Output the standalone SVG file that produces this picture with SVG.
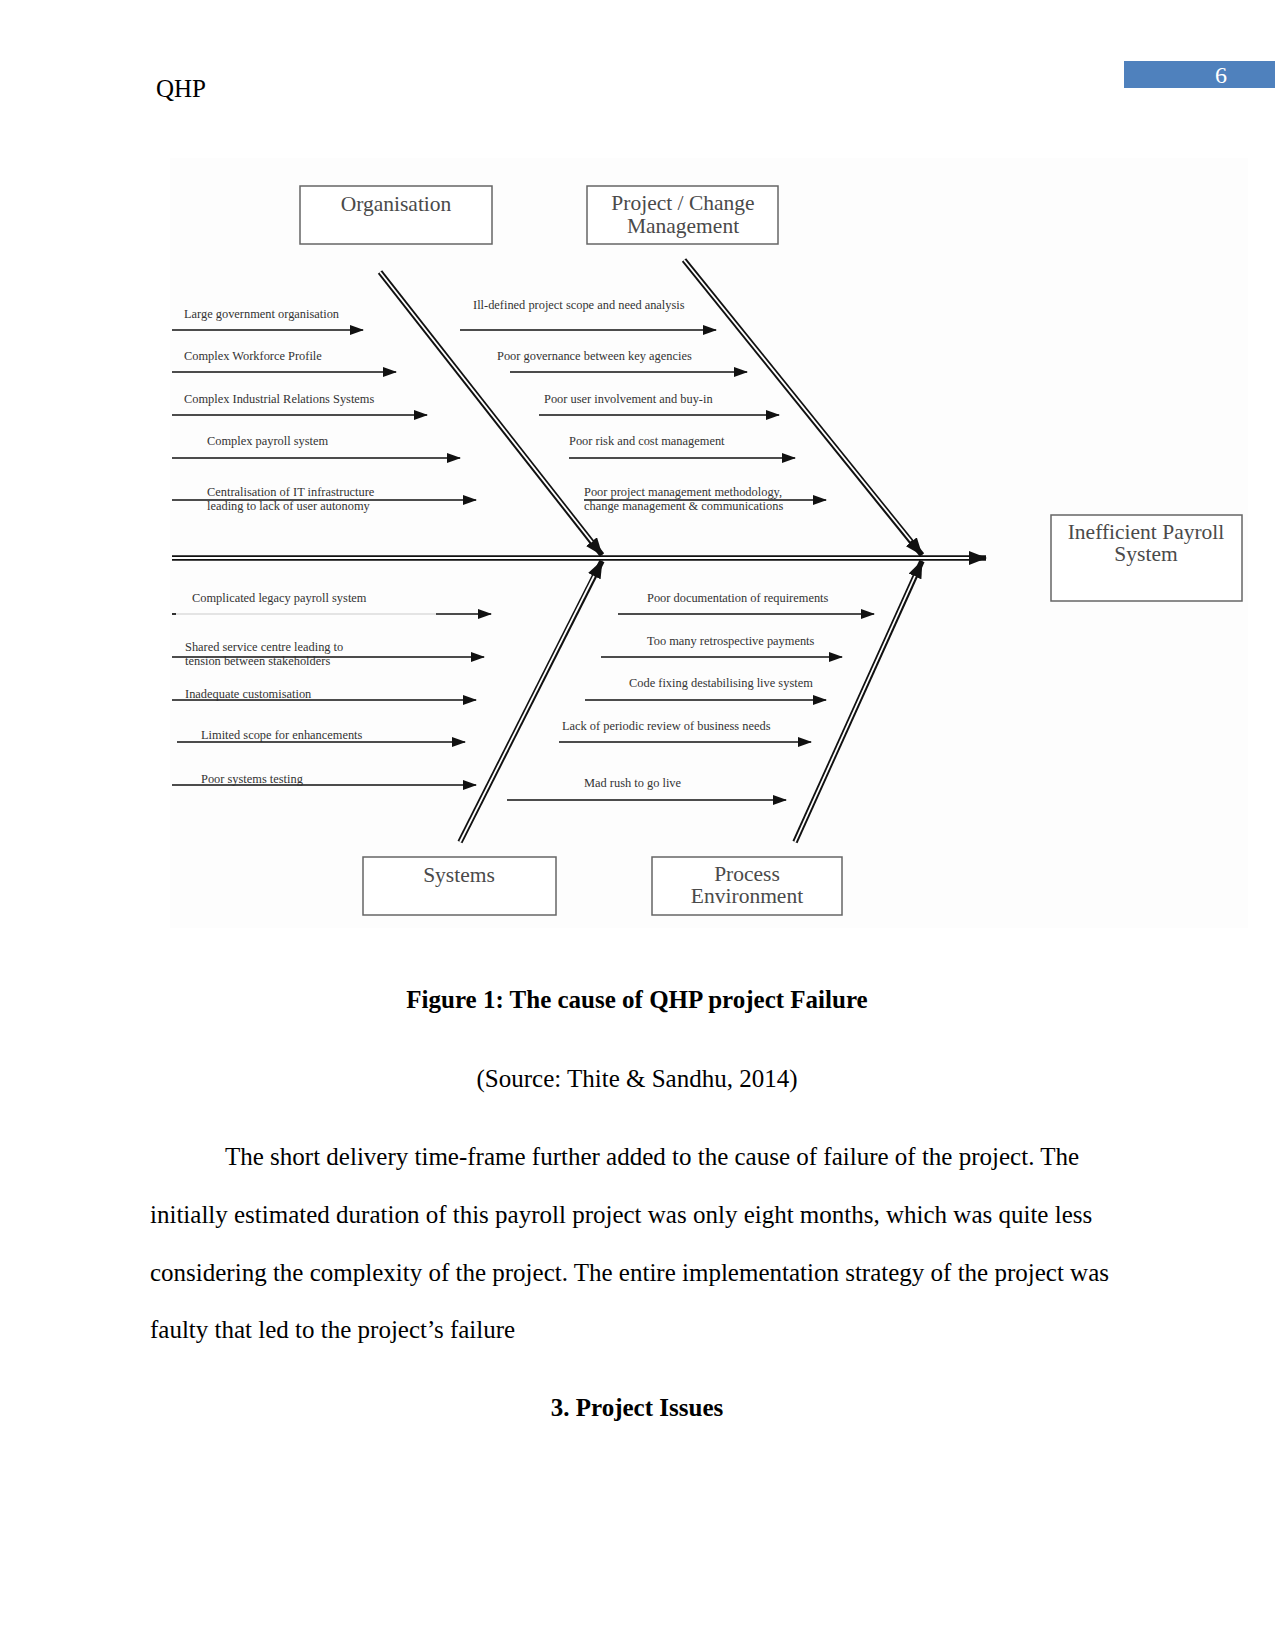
<svg xmlns="http://www.w3.org/2000/svg" width="1275" height="1651" viewBox="0 0 1275 1651">
<style>
.doc{font-family:"Liberation Serif","Times New Roman",serif;fill:#000}
.lbl{font-family:"Liberation Serif","Times New Roman",serif;font-size:12.4px;fill:#333}
.box{fill:#fff;stroke:#666;stroke-width:1.5}
.btxt{font-family:"Liberation Serif","Times New Roman",serif;font-size:21.5px;fill:#4a4a4a;text-anchor:middle}
.arr{stroke:#111;stroke-width:1.7;fill:none;marker-end:url(#ah)}
.dblo{stroke:#111;stroke-width:5.5;fill:none;marker-end:url(#bh)}
.dbli{stroke:#fff;stroke-width:1.8;fill:none}
</style>
<defs>
<marker id="ah" markerUnits="userSpaceOnUse" markerWidth="14" markerHeight="10" refX="13" refY="5" orient="auto">
<path d="M0,0 L14,5 L0,10 Z" fill="#111"/>
</marker>
<marker id="bh" markerUnits="userSpaceOnUse" markerWidth="18" markerHeight="14" refX="17" refY="7" orient="auto">
<path d="M0,0 L18,7 L0,14 Z" fill="#111"/>
</marker>
</defs>
<rect width="1275" height="1651" fill="#fff"/>

<!-- page header -->
<text class="doc" x="156" y="97" font-size="25">QHP</text>
<rect x="1124" y="61" width="151" height="27" fill="#4F81BD"/>
<text class="doc" x="1221" y="83" font-size="24" text-anchor="middle" style="fill:#fff">6</text>

<!-- diagram background -->
<rect x="170" y="158" width="1078" height="770" fill="#fdfdfd"/>

<!-- nodes -->
<g id="organisation">
<rect class="box" x="300" y="186" width="192" height="58"/>
<text class="btxt" x="396" y="211">Organisation</text>
</g>
<g id="project-change-management">
<rect class="box" x="587" y="186" width="191" height="58"/>
<text class="btxt" x="683" y="210">Project / Change</text>
<text class="btxt" x="683" y="233">Management</text>
</g>
<g id="inefficient-payroll-system">
<rect class="box" x="1051" y="515" width="191" height="86"/>
<text class="btxt" x="1146" y="539">Inefficient Payroll</text>
<text class="btxt" x="1146" y="561">System</text>
</g>
<g id="systems">
<rect class="box" x="363" y="857" width="193" height="58"/>
<text class="btxt" x="459" y="882">Systems</text>
</g>
<g id="process-environment">
<rect class="box" x="652" y="857" width="190" height="58"/>
<text class="btxt" x="747" y="881">Process</text>
<text class="btxt" x="747" y="903">Environment</text>
</g>

<!-- connectors -->
<g id="connectors">
<line class="dblo" x1="172" y1="558" x2="986" y2="558"/>
<line class="dbli" x1="172" y1="558" x2="969" y2="558"/>
<line class="dblo" x1="380" y1="272" x2="602" y2="555"/>
<line class="dbli" x1="380" y1="272" x2="592" y2="542"/>
<line class="dblo" x1="684" y1="260" x2="922" y2="555"/>
<line class="dbli" x1="684" y1="260" x2="911" y2="541"/>
<line class="dblo" x1="460" y1="842" x2="602" y2="561"/>
<line class="dbli" x1="460" y1="842" x2="594" y2="576"/>
<line class="dblo" x1="795" y1="842" x2="922" y2="561"/>
<line class="dbli" x1="795" y1="842" x2="915" y2="576"/>

<!-- organisation causes -->
<line class="arr" x1="172" y1="330" x2="363" y2="330"/>
<line class="arr" x1="172" y1="372" x2="396" y2="372"/>
<line class="arr" x1="172" y1="415" x2="427" y2="415"/>
<line class="arr" x1="172" y1="458" x2="460" y2="458"/>
<line class="arr" x1="172" y1="500" x2="476" y2="500"/>
<!-- project causes -->
<line class="arr" x1="460" y1="330" x2="716" y2="330"/>
<line class="arr" x1="510" y1="372" x2="747" y2="372"/>
<line class="arr" x1="539" y1="415" x2="779" y2="415"/>
<line class="arr" x1="569" y1="458" x2="795" y2="458"/>
<line class="arr" x1="584" y1="500" x2="826" y2="500"/>
<!-- systems causes -->
<line x1="172" y1="614" x2="436" y2="614" stroke="#ccc" stroke-width="1.2"/>
<line x1="172" y1="614" x2="176" y2="614" stroke="#111" stroke-width="1.7"/>
<line class="arr" x1="436" y1="614" x2="491" y2="614"/>
<line class="arr" x1="172" y1="657" x2="484" y2="657"/>
<line class="arr" x1="172" y1="700" x2="476" y2="700"/>
<line class="arr" x1="177" y1="742" x2="465" y2="742"/>
<line class="arr" x1="172" y1="785" x2="476" y2="785"/>
<!-- process causes -->
<line class="arr" x1="618" y1="614" x2="874" y2="614"/>
<line class="arr" x1="601" y1="657" x2="842" y2="657"/>
<line class="arr" x1="585" y1="700" x2="826" y2="700"/>
<line class="arr" x1="559" y1="742" x2="811" y2="742"/>
<line class="arr" x1="507" y1="800" x2="786" y2="800"/>
</g>

<!-- cause labels -->
<g id="labels">
<text class="lbl" x="184" y="318">Large government organisation</text>
<text class="lbl" x="184" y="360">Complex Workforce Profile</text>
<text class="lbl" x="184" y="403">Complex Industrial Relations Systems</text>
<text class="lbl" x="207" y="445">Complex payroll system</text>
<text class="lbl" x="207" y="496">Centralisation of IT infrastructure</text>
<text class="lbl" x="207" y="510">leading to lack of user autonomy</text>

<text class="lbl" x="473" y="309">Ill-defined project scope and need analysis</text>
<text class="lbl" x="497" y="360">Poor governance between key agencies</text>
<text class="lbl" x="544" y="403">Poor user involvement and buy-in</text>
<text class="lbl" x="569" y="445">Poor risk and cost management</text>
<text class="lbl" x="584" y="496">Poor project management methodology,</text>
<text class="lbl" x="584" y="510">change management &amp; communications</text>

<text class="lbl" x="192" y="602">Complicated legacy payroll system</text>
<text class="lbl" x="185" y="651">Shared service centre leading to</text>
<text class="lbl" x="185" y="665">tension between stakeholders</text>
<text class="lbl" x="185" y="698">Inadequate customisation</text>
<text class="lbl" x="201" y="739">Limited scope for enhancements</text>
<text class="lbl" x="201" y="783">Poor systems testing</text>

<text class="lbl" x="647" y="602">Poor documentation of requirements</text>
<text class="lbl" x="647" y="645">Too many retrospective payments</text>
<text class="lbl" x="629" y="687">Code fixing destabilising live system</text>
<text class="lbl" x="562" y="730">Lack of periodic review of business needs</text>
<text class="lbl" x="584" y="787">Mad rush to go live</text>
</g>

<!-- caption and body -->
<text class="doc" x="637" y="1008" font-size="25" font-weight="bold" text-anchor="middle">Figure 1: The cause of QHP project Failure</text>
<text class="doc" x="637" y="1087" font-size="25" text-anchor="middle">(Source: Thite &amp; Sandhu, 2014)</text>
<text class="doc" x="225" y="1165" font-size="25">The short delivery time-frame further added to the cause of failure of the project. The</text>
<text class="doc" x="150" y="1223" font-size="25">initially estimated duration of this payroll project was only eight months, which was quite less</text>
<text class="doc" x="150" y="1281" font-size="25">considering the complexity of the project. The entire implementation strategy of the project was</text>
<text class="doc" x="150" y="1338" font-size="25">faulty that led to the project’s failure</text>
<text class="doc" x="637" y="1416" font-size="25" font-weight="bold" text-anchor="middle">3. Project Issues</text>
</svg>
